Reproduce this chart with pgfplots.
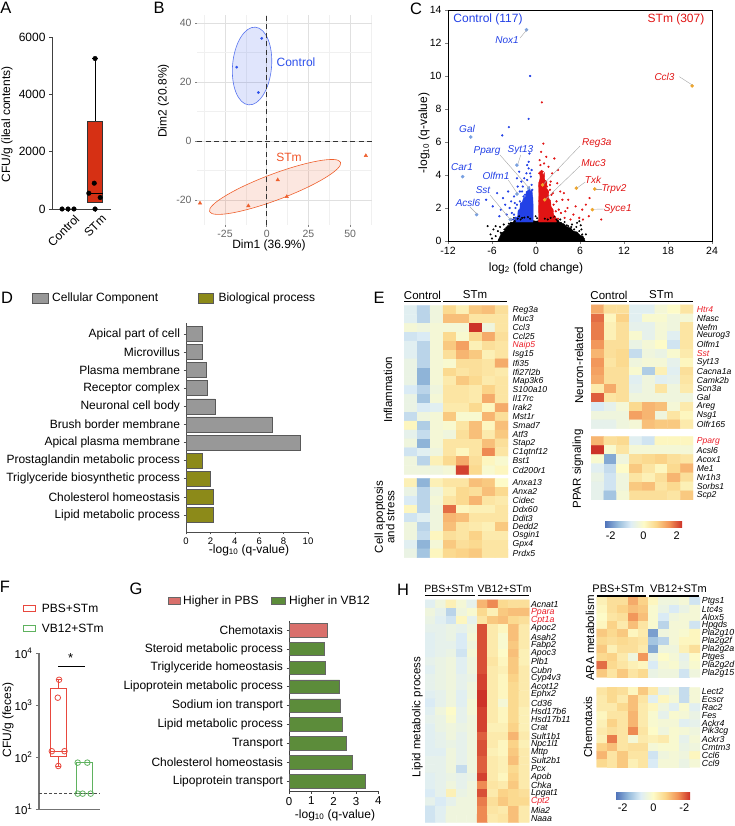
\documentclass[border=0pt]{standalone}
\usepackage{pgfplots}
\pgfplotsset{compat=1.18}
\usepackage{fontspec}
\setmainfont{Liberation Sans}
\newcommand\fs[1]{\fontsize{#1}{#1}\selectfont}
\definecolor{boxred}{RGB}{214,48,20}
\definecolor{ctrlblue}{RGB}{45,80,235}
\definecolor{stmor}{RGB}{238,95,45}
\definecolor{vblue}{RGB}{35,65,230}
\definecolor{vred}{RGB}{225,20,20}
\definecolor{lblue}{RGB}{120,160,225}
\definecolor{lorange}{RGB}{240,165,40}
\definecolor{gbar}{RGB}{152,152,152}
\definecolor{obar}{RGB}{140,138,25}
\definecolor{salm}{RGB}{217,112,108}
\definecolor{gbar2}{RGB}{92,140,58}
\definecolor{pbsred}{RGB}{232,72,62}
\definecolor{vbgreen}{RGB}{95,178,95}
\definecolor{labred}{RGB}{235,30,40}
\definecolor{cm0}{RGB}{80,115,185}
\definecolor{cm1}{RGB}{150,187,220}
\definecolor{cm2}{RGB}{222,238,246}
\definecolor{cm3}{RGB}{253,251,200}
\definecolor{cm4}{RGB}{251,214,138}
\definecolor{cm5}{RGB}{242,148,88}
\definecolor{cm6}{RGB}{205,50,40}
\pgfdeclarehorizontalshading{rdylbush}{100bp}{color(0bp)=(cm0); color(25bp)=(cm0); color(33.33bp)=(cm1); color(41.67bp)=(cm2); color(50bp)=(cm3); color(58.33bp)=(cm4); color(66.67bp)=(cm5); color(75bp)=(cm6); color(100bp)=(cm6)}
\pgfplotsset{
  /pgf/number format/assume math mode=true,
  colormap={rdylbu}{rgb255(0cm)=(80,115,185); rgb255(1cm)=(150,187,220); rgb255(2cm)=(222,238,246); rgb255(3cm)=(253,251,200); rgb255(4cm)=(251,214,138); rgb255(5cm)=(242,148,88); rgb255(6cm)=(205,50,40)},
  noarrows/.style={axis line style={-}, every outer x axis line/.append style={-}, every outer y axis line/.append style={-}},
  hm/.style={scale only axis, anchor=south west, enlargelimits=false, axis line style={draw=none}, tick style={draw=none}, major tick length=0pt, xtick=\empty, yticklabel pos=right, yticklabel style={font=\fs{8.6}\itshape, inner sep=0pt, anchor=west}, colormap name=rdylbu, point meta min=-2, point meta max=2},
  hm8/.style={matrix plot*, mesh/cols=8, point meta=\thisrowno{0}},
  hm10/.style={matrix plot*, mesh/cols=10, point meta=\thisrowno{0}},
  /pgfplots/table/tb8/.style={row sep=\\, header=false, x expr={\coordindex-8*floor((\coordindex+0.5)/8)}, y expr={-floor((\coordindex+0.5)/8)}},
  /pgfplots/table/tb10/.style={row sep=\\, header=false, x expr={\coordindex-10*floor((\coordindex+0.5)/10)}, y expr={-floor((\coordindex+0.5)/10)}},
}
\begin{document}
\begin{tikzpicture}
\path[use as bounding box] (0,0) rectangle (735pt,826pt);

% ---------------- A
\begin{axis}[at={(52pt,617pt)}, anchor=south west, scale only axis, width=59pt, height=172pt,
 xmin=0.407, xmax=2.59, ymin=0, ymax=6000,
 axis x line*=bottom, axis y line*=left, noarrows, axis line style={black!75, line width=0.7pt},
 xtick={1,2}, xticklabels={,},
 ytick={0,2000,4000,6000}, yticklabel style={font=\fs{12}}, scaled y ticks=false, /pgf/number format/1000 sep={},
 tick align=outside, major tick length=3pt, tick style={black!75, line width=0.7pt}]
\addplot[black, line width=0.7pt] coordinates {(2,3050)(2,5250)};
\addplot[black, line width=0.7pt] coordinates {(1.9,5250)(2.1,5250)};
\addplot[fill=boxred, draw=black!80, line width=0.7pt] coordinates {(1.72,230)(2.28,230)(2.28,3050)(1.72,3050)(1.72,230)};
\addplot[black, line width=0.8pt] coordinates {(1.72,560)(2.28,560)};
\addplot[only marks, mark=*, mark size=2.3pt, black] coordinates {(0.78,0)(1,0)(1.22,0)(2,5250)(1.97,900)(1.77,550)(2.19,400)(2,0)};
\end{axis}

% ---------------- B
\begin{axis}[at={(197pt,601pt)}, anchor=south west, scale only axis, width=175pt, height=210pt,
 xmin=-41.8, xmax=63.1, ymin=-28.5, ymax=42.7, axis line style={draw=none},
 xtick={-25,0,25,50}, ytick={-20,0,20,40},
 minor xtick={-37.5,-12.5,12.5,37.5,62.5}, minor ytick={-10,10,30},
 grid=both, major grid style={draw=black!12, line width=0.6pt}, minor grid style={draw=black!6, line width=0.4pt},
 tick pos=left, tick align=outside, major tick length=2pt, minor tick length=0pt, tick style={black!50, line width=0.5pt},
 tick label style={font=\fs{10.5}, text=black!60}]
\draw[draw=ctrlblue!80, line width=0.6pt, fill=ctrlblue, fill opacity=0.15, rotate around={-5:(axis cs:-8.8,25.4)}] (axis cs:-8.8,25.4) ellipse [x radius=19.5pt, y radius=39pt];
\draw[draw=stmor, line width=0.6pt, fill=stmor, fill opacity=0.15, rotate around={20.6:(axis cs:5,-15.6)}] (axis cs:5,-15.6) ellipse [x radius=70pt, y radius=13pt];
\addplot[black!80, dash pattern=on 5pt off 3.5pt, line width=0.6pt] coordinates {(0,-28.5)(0,42.7)};
\addplot[black!80, dash pattern=on 5pt off 3.5pt, line width=0.6pt] coordinates {(-41.8,0)(63.1,0)};
\addplot[only marks, mark=*, mark size=1.2pt, ctrlblue] coordinates {(-18,25)(-3,34.8)(-5,16.4)};
\addplot[only marks, mark=triangle*, mark size=2pt, stmor] coordinates {(59.4,-5)(6.6,-13.2)(12,-18.9)(-11,-22)(-40,-21.1)};
\end{axis}

% ---------------- C
\begin{axis}[at={(448pt,585pt)}, anchor=south west, scale only axis, width=264pt, height=231pt,
 xmin=-12, xmax=24, ymin=0, ymax=14, xtick={-12,-6,...,24}, ytick={0,2,...,14},
 tick pos=left, tick align=outside, major tick length=3pt, axis line style={line width=0.6pt}, tick style={line width=0.6pt},
 tick label style={font=\fs{10.5}}]
\addplot[fill=black, draw=black, line width=0.3pt] coordinates {(-5.2,0)(-4.9,0.3)(-4.7,0.5)(-4.3,0.6)(-4.1,0.85)(-3.7,0.9)(-3.5,1.1)(-3.1,1.15)(-2.9,1.3)(-2.0,1.22)(-1.0,1.3)(0,1.2)(1.0,1.3)(2.0,1.22)(2.9,1.3)(3.3,1.1)(3.8,1.05)(4.2,0.85)(4.7,0.8)(5.1,0.6)(5.6,0.55)(6.0,0.35)(6.4,0.3)(6.7,0)(-5.2,0)};
\addplot[only marks, mark=*, mark size=0.8pt, black] coordinates {(-5.5,0.3)(-5.0,0.1)(-4.8,0.5)(-4.6,0.2)(-4.3,0.7)(-4.1,0.35)(-3.8,0.9)(-3.6,0.5)(-3.4,1.1)(-3.1,0.75)(-2.9,1.2)(-2.7,1.0)(-2.5,1.35)(-2.1,1.3)(-1.9,1.4)(-1.6,1.42)(-1.1,1.45)(-0.8,1.35)(-0.05,1.5)(0.15,1.38)(1.2,1.35)(1.6,1.3)(2.0,1.4)(2.8,1.3)(3.0,1.2)(3.2,0.7)(3.4,1.1)(3.8,0.8)(4.2,0.95)(4.5,0.35)(4.8,0.85)(5.2,0.7)(5.5,0.85)(5.7,0.3)(5.9,0.6)(6.1,0.95)(6.3,0.4)(6.5,0.15)(5.6,1.1)(6.0,0.2)(-6.6,0.9)(-6.2,0.4)(-5.8,0.7)(3.9,1.15)(4.4,0.9)(-4.4,1.0)(-3.0,1.4)(5.9,1.2)(6.2,0.7)(-5.2,0.6)(4.9,1.0)(3.3,1.3)(-3.7,1.05)(-4.9,0.85)(-5.5,0.9)(-6.0,0.15)(6.8,0.4)(-3.3,1.3)(2.5,1.45)(-2.3,1.5)};
\addplot[fill=vblue, draw=vblue, line width=0.3pt] coordinates {(-0.4,1.15)(-0.38,2.0)(-0.42,2.6)(-0.55,3.1)(-0.75,3.0)(-0.9,3.3)(-1.1,3.05)(-1.35,3.0)(-1.4,2.7)(-1.7,2.6)(-1.9,2.35)(-2.15,2.3)(-2.2,1.95)(-2.45,1.85)(-2.5,1.5)(-2.75,1.4)(-2.8,1.15)(-0.4,1.15)};
\addplot[fill=vred, draw=vred, line width=0.3pt] coordinates {(0.36,1.15)(0.33,2.0)(0.38,2.8)(0.35,3.5)(0.55,3.8)(0.5,4.2)(0.8,4.3)(0.95,4.0)(1.15,4.15)(1.2,3.7)(1.5,3.6)(1.45,3.2)(1.75,3.0)(1.7,2.6)(2.0,2.45)(2.05,2.1)(2.35,1.9)(2.4,1.6)(2.7,1.45)(2.8,1.15)(0.36,1.15)};
\addplot[only marks, mark=*, mark size=0.9pt, vblue] coordinates {(-0.8,10.0)(-1.0,7.4)(-3.7,6.9)(-4.6,6.4)(-1.0,4.8)(-1.0,4.4)(-1.3,4.1)(-0.8,4.1)(-6.8,2.5)(-5.9,2.1)(-4.5,2.6)(-4.2,2.2)(-3.4,2.4)(-3.0,2.7)(-2.5,3.3)(-2.0,3.6)(-1.6,3.8)(-2.8,2.0)(-3.3,1.7)(-4.0,1.6)(-5.0,1.5)(-2.2,3.0)(-1.8,3.3)(-1.2,3.7)(-0.7,3.9)(-3.8,3.0)(-2.6,3.8)(-5.3,2.9)(-0.6,3.4)(-1.5,2.8)(-2.9,2.3)(-3.6,2.0)(-4.8,1.9)(-0.9,5.3)(-1.2,4.6)(-0.6,4.3)(-2.3,4.2)(-2.8,1.4)(-2.2,2.4)(-1.7,2.7)(-0.5,3.1)(-1.0,3.1)(-3.1,1.3)(-2.6,2.2)(-1.9,3.0)(-3.0,1.6)};
\addplot[only marks, mark=*, mark size=0.9pt, vred] coordinates {(0.8,8.4)(1.0,5.9)(2.5,5.0)(3.0,4.3)(6.8,2.2)(8.9,1.3)(4.3,2.0)(3.4,1.7)(4.7,1.3)(5.9,1.4)(3.9,1.4)(2.0,3.6)(2.3,2.9)(2.8,2.4)(3.3,3.0)(2.7,1.8)(3.6,2.5)(5.1,1.6)(6.3,1.9)(7.2,1.5)(7.3,2.6)(1.7,4.5)(1.4,5.1)(2.2,4.1)(1.1,4.7)(0.6,4.6)(0.7,5.4)(1.9,3.1)(2.9,3.5)(3.8,2.9)(4.0,1.8)(4.4,2.5)(5.4,2.1)(6.4,1.3)(2.4,2.2)(1.6,2.7)(1.3,3.6)(0.5,4.9)(0.9,4.2)(1.5,3.3)(2.6,1.4)(0.45,4.1)(1.8,2.0)(3.0,1.35)(2.1,2.8)(1.9,3.4)(3.1,1.9)};
\addplot[only marks, mark=*, mark size=1.6pt, lblue] coordinates {(-1.3,12.8)(-8.9,6.3)(-10,3.9)(-8.1,1.6)(-2.6,4.6)(-1.0,3.2)(-2.6,2.85)(-3.5,1.3)};
\addplot[only marks, mark=*, mark size=1.6pt, lorange] coordinates {(21.3,9.4)(5.5,3.2)(8.0,3.15)(7.7,1.9)(0.9,3.4)(1.2,2.5)};
\end{axis}

% ---------------- D
\begin{axis}[at={(186pt,294pt)}, anchor=south west, scale only axis, width=122pt, height=208.7pt,
 xmin=0, xmax=10, ymin=-0.59, ymax=10.94, y dir=reverse,
 axis x line*=bottom, axis y line*=left, noarrows, axis line style={black!70, line width=0.6pt},
 xtick={0,2,...,10}, ytick={0,...,10},
 yticklabels={Apical part of cell, Microvillus, Plasma membrane, Receptor complex, Neuronal cell body, Brush border membrane, Apical plasma membrane, Prostaglandin metabolic process, Triglyceride biosynthetic process, Cholesterol homeostasis, Lipid metabolic process},
 tick align=outside, major tick length=2.5pt, tick style={black!70, line width=0.6pt},
 xticklabel style={font=\fs{9.5}}, yticklabel style={font=\fs{12}}]
\addplot[xbar, bar width=15pt, fill=gbar, draw=black!65, line width=0.6pt] coordinates {(1.34,0)(1.34,1)(1.7,2)(1.78,3)(2.38,4)(7.1,5)(9.4,6)};
\addplot[xbar, bar width=15pt, fill=obar, draw=black!65, line width=0.6pt] coordinates {(1.34,7)(1.97,8)(2.24,9)(2.24,10)};
\end{axis}

% ---------------- E heatmaps
\begin{axis}[hm, at={(404pt,351.6pt)}, width=104pt, height=168.8pt, xmin=-0.5, xmax=7.5, ymin=-18.5, ymax=0.5,
 ytick={0,-1,...,-18}, yticklabels={Reg3a,Muc3,Ccl3,Ccl25,\textcolor{labred}{Naip5},Isg15,Ifi35,Ifi27l2b,Map3k6,S100a10,Il17rc,Irak2,Mst1r,Smad7,Atf3,Stap2,C1qtnf12,Bst1,Cd200r1},
 yticklabel style={xshift=4.5pt}]
\addplot[hm8] table[tb8] {
-0.6\\ -1.0\\ -0.3\\ 0.6\\ 0.2\\ 0.8\\ 0.9\\ 0.5\\
-0.6\\ -1.0\\ -0.3\\ 0.9\\ 0.9\\ 0.4\\ 0.4\\ 0.4\\
-0.2\\ -0.3\\ -0.2\\ -0.2\\ -0.2\\ 2.0\\ -0.3\\ 0.4\\
-0.8\\ -0.7\\ -0.2\\ 0.6\\ -0.1\\ 0.6\\ 1.1\\ 0.5\\
-0.6\\ -1.0\\ -0.2\\ 0.8\\ 1.2\\ 0.2\\ 0.5\\ 0.4\\
-0.6\\ -1.0\\ -0.2\\ 0.5\\ 1.0\\ 0.8\\ 0.2\\ 0.4\\
-0.4\\ -1.0\\ -0.2\\ -0.1\\ 0.5\\ 0.5\\ 0.4\\ 1.1\\
-0.4\\ -1.4\\ -0.2\\ 0.6\\ 0.4\\ 0.5\\ 0.4\\ 0.3\\
-0.4\\ -1.4\\ -0.2\\ 0.3\\ 0.8\\ 0.6\\ 0.3\\ 0.4\\
-0.7\\ -1.0\\ -0.3\\ 0.4\\ 0.4\\ 0.3\\ 0.7\\ 0.4\\
-0.4\\ -1.2\\ -0.2\\ 0.4\\ 0.4\\ 0.3\\ 1.1\\ 0.4\\
-0.4\\ -0.7\\ -0.6\\ 0.3\\ 0.3\\ 0.6\\ 0.1\\ 1.1\\
-0.9\\ -0.3\\ -0.2\\ 0.8\\ -0.1\\ -0.1\\ 1.0\\ 0.5\\
0.1\\ -1.1\\ -0.2\\ -0.1\\ 0.4\\ 0.9\\ 0.1\\ 0.9\\
-0.5\\ -0.9\\ -0.2\\ -0.3\\ 0.5\\ 0.9\\ 0.3\\ 0.8\\
-0.3\\ -1.4\\ -0.2\\ 0.4\\ 0.4\\ 0.4\\ 0.9\\ 0.5\\
-0.8\\ -0.6\\ -0.3\\ 0.4\\ 0.1\\ 0.4\\ 1.4\\ 0.4\\
-0.3\\ -1.0\\ 0.2\\ 0.6\\ 1.1\\ 0.5\\ 0.1\\ -0.1\\
-0.3\\ -0.3\\ -0.3\\ -0.2\\ 1.9\\ 0.6\\ -0.1\\ 0.1\\
};
\end{axis}

\begin{axis}[hm, at={(404pt,268.3pt)}, width=104pt, height=79.4pt, xmin=-0.5, xmax=7.5, ymin=-8.5, ymax=0.5,
 ytick={0,-1,...,-8}, yticklabels={Anxa13,Anxa2,Cidec,Ddx60,Ddit3,Dedd2,Osgin1,Gpx4,Prdx5},
 yticklabel style={xshift=4.5pt}]
\addplot[hm8] table[tb8] {
0.2\\ -1.4\\ 0.2\\ 0.4\\ 0.4\\ 0.9\\ 0.8\\ 0.0\\
-0.4\\ -1.0\\ -0.3\\ 0.2\\ 0.6\\ 0.5\\ 0.9\\ 0.6\\
-0.7\\ -1.0\\ -0.2\\ 0.4\\ 0.6\\ 1.0\\ 0.4\\ 0.3\\
0.1\\ -1.0\\ -0.3\\ 1.6\\ 0.1\\ 0.2\\ 0.2\\ 0.4\\
-0.8\\ -0.6\\ -0.3\\ 1.0\\ 0.9\\ 0.4\\ 0.4\\ 0.4\\
-0.3\\ -1.0\\ -0.3\\ 0.9\\ 0.4\\ 0.3\\ 0.2\\ 0.8\\
-0.3\\ -0.9\\ 0.1\\ 0.5\\ 0.4\\ 0.7\\ 0.3\\ 0.3\\
-0.6\\ -1.4\\ -0.2\\ 0.8\\ 0.5\\ 0.6\\ 0.4\\ 0.4\\
-0.4\\ -1.2\\ 0.1\\ 0.6\\ 0.7\\ 0.8\\ 0.4\\ 0.4\\
};
\end{axis}

\begin{axis}[hm, at={(591pt,397.3pt)}, width=102pt, height=123.8pt, xmin=-0.5, xmax=7.5, ymin=-13.5, ymax=0.5,
 ytick={0,-1,...,-13}, yticklabels={\textcolor{labred}{Htr4},Nfasc,Nefm,Neurog3,Olfm1,\textcolor{labred}{Sst},Syt13,Cacna1a,Camk2b,Scn3a,Gal,Areg,Nsg1,Olfr165},
 yticklabel style={xshift=3.7pt}]
\addplot[hm8] table[tb8] {
1.1\\ 0.5\\ 0.5\\ -0.6\\ -0.6\\ -0.2\\ 0.0\\ 0.4\\
1.6\\ 0.1\\ 0.7\\ -0.6\\ -0.1\\ -0.1\\ -0.3\\ -0.2\\
1.5\\ 0.2\\ 0.5\\ -0.5\\ -0.5\\ -0.2\\ -0.3\\ 0.4\\
1.5\\ 0.2\\ 0.5\\ -0.1\\ -0.5\\ -0.2\\ -0.6\\ 0.4\\
1.3\\ 0.5\\ 0.5\\ -0.4\\ -0.2\\ 0.0\\ -0.8\\ 0.4\\
1.0\\ 0.5\\ 0.6\\ -0.9\\ -0.3\\ -0.4\\ -0.1\\ 0.3\\
1.3\\ 0.4\\ 0.6\\ -0.3\\ -0.2\\ -0.2\\ -0.5\\ 0.1\\
1.2\\ 0.5\\ 0.5\\ -0.1\\ -1.1\\ 0.2\\ -0.6\\ 0.5\\
1.1\\ 0.5\\ 0.5\\ -0.6\\ -0.3\\ -0.6\\ -0.5\\ 0.4\\
0.3\\ 1.1\\ 0.5\\ -0.5\\ -0.3\\ 0.4\\ -0.3\\ 0.3\\
1.7\\ 0.4\\ 0.5\\ -0.3\\ -0.3\\ -0.3\\ -0.3\\ -0.3\\
-0.7\\ -0.5\\ -0.2\\ 0.6\\ 1.0\\ 0.9\\ -0.2\\ 0.3\\
-0.3\\ -0.3\\ -0.3\\ 1.2\\ 1.0\\ -0.3\\ 0.4\\ 0.1\\
-0.5\\ -0.5\\ -0.3\\ -0.2\\ 0.9\\ 0.8\\ 0.8\\ 0.3\\
};
\end{axis}

\begin{axis}[hm, at={(591pt,326pt)}, width=102pt, height=63.5pt, xmin=-0.5, xmax=7.5, ymin=-6.5, ymax=0.5,
 ytick={0,-1,...,-6}, yticklabels={\textcolor{labred}{Pparg},Acsl6,Acox1,Me1,Nr1h3,Sorbs1,Scp2},
 yticklabel style={xshift=3.7pt}]
\addplot[hm8] table[tb8] {
1.0\\ 0.5\\ 0.6\\ -0.6\\ -0.8\\ 0.1\\ 0.1\\ 0.1\\
2.0\\ -0.1\\ 0.4\\ -0.2\\ -0.2\\ -0.2\\ -0.2\\ -0.2\\
-0.1\\ -1.5\\ -0.3\\ 0.5\\ 0.6\\ 0.7\\ 0.5\\ 0.4\\
-0.6\\ -0.9\\ 0.0\\ 0.8\\ 0.4\\ 0.1\\ 0.6\\ 1.0\\
-0.4\\ -0.8\\ -0.3\\ 0.4\\ 0.2\\ 0.5\\ 1.0\\ 0.5\\
-0.5\\ -0.8\\ -0.3\\ 0.8\\ 0.9\\ 0.4\\ 0.6\\ 0.2\\
-0.5\\ -1.2\\ -0.2\\ 0.5\\ 0.5\\ 0.5\\ 0.4\\ 0.8\\
};
\end{axis}

% ---------------- F
\begin{axis}[at={(39pt,16.7pt)}, anchor=south west, scale only axis, width=61pt, height=156pt,
 ymode=log, ymin=10, ymax=10000, xmin=0.255, xmax=2.61,
 axis x line*=bottom, axis y line*=left, noarrows, axis line style={black!55, line width=1.1pt},
 xtick=\empty, ytick={10,100,1000,10000}, yticklabels={10\textsuperscript{1},10\textsuperscript{2},10\textsuperscript{3},10\textsuperscript{4}},
 minor tick length=0pt, tick align=outside, major tick length=3pt, tick style={black!55, line width=1pt}, yticklabel style={font=\fs{11.5}}]
\addplot[pbsred, line width=0.8pt] coordinates {(1,2150)(1,3100)};
\addplot[pbsred, line width=0.8pt] coordinates {(0.9,3100)(1.1,3100)};
\addplot[pbsred, line width=0.8pt] coordinates {(1,103)(1,68)};
\addplot[pbsred, line width=0.8pt] coordinates {(0.9,68)(1.1,68)};
\addplot[pbsred, fill=white, line width=0.8pt] coordinates {(0.68,103)(1.32,103)(1.32,2150)(0.68,2150)(0.68,103)};
\addplot[pbsred, line width=0.8pt] coordinates {(0.68,131)(1.32,131)};
\addplot[vbgreen, fill=white, line width=0.8pt] coordinates {(1.685,20)(2.315,20)(2.315,79)(1.685,79)(1.685,20)};
\addplot[black!70, dash pattern=on 3pt off 2pt, line width=0.5pt] coordinates {(0.255,20)(2.61,20)};
\addplot[only marks, mark=o, mark size=2.8pt, pbsred, line width=0.8pt] coordinates {(1.03,3100)(0.98,1400)(0.75,131)(1.24,131)(1.0,68)};
\addplot[only marks, mark=o, mark size=2.8pt, vbgreen, line width=0.8pt] coordinates {(1.75,79)(2.12,79)(1.75,20)(1.94,20)(2.25,20)};
\addplot[black, line width=0.7pt] coordinates {(1.0,5700)(2.03,5700)};
\end{axis}

% ---------------- G
\begin{axis}[at={(289pt,35pt)}, anchor=south west, scale only axis, width=89.3pt, height=170pt,
 xmin=0, xmax=4, ymin=-0.48, ymax=8.52, y dir=reverse,
 axis x line*=bottom, axis y line*=left, noarrows, axis line style={black!75, line width=0.6pt},
 xtick={0,...,4}, ytick={0,...,8},
 yticklabels={Chemotaxis, Steroid metabolic process, Triglyceride homeostasis, Lipoprotein metabolic process, Sodium ion transport, Lipid metabolic process, Transport, Cholesterol homeostasis, Lipoprotein transport},
 tick align=outside, major tick length=2.5pt, tick style={black!75, line width=0.6pt},
 xticklabel style={font=\fs{11.5}}, yticklabel style={font=\fs{12}}]
\addplot[xbar, bar width=13.5pt, fill=salm, draw=black!60, line width=0.6pt] coordinates {(1.72,0)};
\addplot[xbar, bar width=13.5pt, fill=gbar2, draw=black!60, line width=0.6pt] coordinates {(1.57,1)(1.61,2)(2.27,3)(2.31,4)(2.40,5)(2.58,6)(2.84,7)(3.43,8)};
\end{axis}

% ---------------- H heatmaps
\begin{axis}[hm, at={(425pt,3.6pt)}, width=104.3pt, height=222.5pt, xmin=-0.5, xmax=9.5, ymin=-26.5, ymax=0.5,
 ytick={0,-1,...,-26}, yticklabels={Acnat1,\textcolor{labred}{Ppara},\textcolor{labred}{Cpt1a},Apoc2,Asah2,Fabp2,Apoc3,Plb1,Cubn,Cyp4v3,Acot12,Ephx2,Cd36,Hsd17b6,Hsd17b11,Crat,Sult1b1,Npc1l1,Mttp,Sult2b1,Pcx,Apob,Chka,Lpgat1,\textcolor{labred}{Cpt2},Mia2,Naaa},
 yticklabel style={xshift=1.5pt, font=\fs{8.8}\itshape}]
\addplot[hm10] table[tb10] {
-0.6\\ -0.3\\ 0.2\\ -0.2\\ -0.5\\ 1.0\\ 1.4\\ 0.6\\ 0.5\\ 0.5\\
-0.3\\ -0.5\\ -1.0\\ -0.3\\ -0.1\\ 0.6\\ 0.2\\ 0.8\\ 0.9\\ 0.9\\
-0.4\\ -0.6\\ -0.8\\ 0.1\\ -0.5\\ 0.4\\ 0.8\\ 0.9\\ 0.6\\ 0.5\\
-0.5\\ -0.5\\ -0.4\\ -0.5\\ -0.3\\ 1.8\\ 0.3\\ 0.1\\ 0.9\\ 0.3\\
-0.6\\ -0.5\\ -0.4\\ -0.7\\ -0.2\\ 1.8\\ 0.3\\ -0.1\\ 0.9\\ 0.3\\
-0.6\\ -0.5\\ -0.5\\ -0.7\\ -0.3\\ 1.8\\ 0.3\\ -0.1\\ 0.8\\ 0.3\\
-0.6\\ -0.5\\ -0.4\\ -0.8\\ -0.2\\ 1.8\\ 0.3\\ 0.0\\ 0.9\\ 0.2\\
-0.5\\ -0.4\\ -0.3\\ -0.6\\ -0.3\\ 1.8\\ 0.4\\ 0.1\\ 0.8\\ 0.2\\
-0.6\\ -0.4\\ -0.3\\ -0.6\\ -0.3\\ 1.8\\ 0.3\\ 0.2\\ 0.8\\ 0.3\\
-0.5\\ -0.4\\ -0.3\\ -0.5\\ -0.4\\ 1.9\\ 0.3\\ 0.1\\ 0.7\\ 0.3\\
-0.5\\ -0.4\\ -0.3\\ -0.5\\ -0.3\\ 1.9\\ 0.3\\ 0.1\\ 0.6\\ 0.3\\
-0.6\\ -0.5\\ -0.3\\ -0.6\\ -0.3\\ 2.0\\ 0.3\\ 0.1\\ 0.6\\ 0.3\\
-0.7\\ -0.5\\ -0.3\\ -0.6\\ -0.2\\ 2.0\\ 0.3\\ -0.2\\ 0.6\\ 0.3\\
-0.6\\ -0.3\\ 0.0\\ -0.5\\ -0.2\\ 1.9\\ 0.3\\ 0.1\\ 0.6\\ 0.2\\
-0.5\\ -0.4\\ -0.1\\ -0.5\\ -0.3\\ 1.9\\ 0.3\\ 0.1\\ 0.6\\ 0.2\\
-0.6\\ -0.4\\ -0.3\\ -0.4\\ -0.3\\ 1.9\\ 0.2\\ 0.2\\ 0.7\\ 0.2\\
-0.6\\ -0.5\\ -0.3\\ -0.5\\ -0.3\\ 1.7\\ 0.3\\ 0.3\\ 1.0\\ 0.3\\
-0.6\\ -0.5\\ -0.4\\ -0.5\\ -0.3\\ 1.8\\ 0.3\\ 0.1\\ 0.7\\ 0.2\\
-0.6\\ -0.6\\ -0.3\\ -0.5\\ -0.3\\ 1.8\\ 0.2\\ 0.1\\ 0.8\\ 0.3\\
-0.5\\ -0.5\\ -0.3\\ -0.5\\ -0.3\\ 1.7\\ 0.3\\ 0.2\\ 0.9\\ 0.3\\
-0.5\\ -0.5\\ -0.3\\ -0.9\\ -0.3\\ 1.7\\ 0.3\\ 0.2\\ 0.6\\ 0.3\\
-0.6\\ -0.5\\ -0.4\\ -0.5\\ -0.4\\ 1.9\\ 0.3\\ 0.1\\ 0.7\\ 0.3\\
-0.6\\ -0.5\\ -0.3\\ -0.5\\ -0.3\\ 1.4\\ 0.4\\ 0.3\\ 0.8\\ 0.3\\
-0.7\\ -0.5\\ 0.2\\ -0.4\\ -0.3\\ 1.8\\ 0.3\\ 0.7\\ 0.6\\ 0.5\\
-0.5\\ -0.7\\ -0.5\\ -0.3\\ -0.3\\ 1.5\\ 0.5\\ 0.8\\ 0.6\\ 0.6\\
-0.8\\ -0.6\\ -0.3\\ -0.3\\ -0.3\\ 1.4\\ 0.4\\ 0.3\\ 0.9\\ 0.3\\
-0.8\\ -0.6\\ -0.3\\ -0.3\\ -0.3\\ 1.4\\ 0.3\\ 0.4\\ 0.9\\ 0.3\\
};
\end{axis}

\begin{axis}[hm, at={(596.7pt,148.7pt)}, width=103.3pt, height=80.3pt, xmin=-0.5, xmax=9.5, ymin=-9.5, ymax=0.5,
 ytick={0,-1,...,-9}, yticklabels={Ptgs1,Ltc4s,Alox5,Hpgds,Pla2g10,Pla2g2f,Pla2g2a,Ptges,Pla2g2d,Pla2g15},
 yticklabel style={xshift=1.7pt, font=\fs{8.8}\itshape}]
\addplot[hm10] table[tb10] {
0.2\\ 0.5\\ 0.5\\ 1.1\\ 0.7\\ 0.1\\ -0.3\\ -0.3\\ -0.2\\ -0.8\\
0.1\\ 0.5\\ 0.7\\ 0.9\\ 0.8\\ -0.1\\ -0.4\\ -0.7\\ -0.4\\ -0.2\\
0.0\\ 0.4\\ 0.5\\ 1.3\\ 0.9\\ -0.1\\ -0.7\\ -0.3\\ -0.2\\ -0.2\\
0.1\\ 0.7\\ 0.3\\ 0.9\\ 0.4\\ -0.1\\ -1.0\\ -0.2\\ -0.2\\ -0.8\\
0.8\\ 0.6\\ 0.8\\ 0.1\\ 0.3\\ -1.6\\ -0.3\\ -0.2\\ -0.1\\ 0.1\\
0.6\\ 0.5\\ 0.6\\ 0.5\\ 0.4\\ -1.2\\ -1.0\\ -0.2\\ 0.1\\ 0.1\\
0.8\\ 0.2\\ 0.5\\ 0.5\\ 0.3\\ -1.5\\ -0.3\\ -0.3\\ 0.2\\ 0.5\\
0.6\\ 0.7\\ 0.3\\ -0.3\\ 1.3\\ -0.4\\ 0.0\\ -0.2\\ -0.5\\ 0.0\\
1.6\\ 0.6\\ 0.4\\ 0.2\\ 0.1\\ -0.7\\ -0.2\\ -0.1\\ -0.4\\ -0.1\\
0.8\\ 0.4\\ 0.8\\ 0.4\\ 0.6\\ -0.4\\ -0.3\\ -0.3\\ -0.8\\ -0.3\\
};
\end{axis}

\begin{axis}[hm, at={(596.7pt,58.7pt)}, width=103.3pt, height=79.6pt, xmin=-0.5, xmax=9.5, ymin=-9.5, ymax=0.5,
 ytick={0,-1,...,-9}, yticklabels={Lect2,Ecscr,Rac2,Fes,Ackr4,Pik3cg,Ackr3,Cmtm3,Ccl6,Ccl9},
 yticklabel style={xshift=1.7pt, font=\fs{8.8}\itshape}]
\addplot[hm10] table[tb10] {
0.4\\ 0.6\\ 0.5\\ 0.1\\ 0.8\\ 0.3\\ -0.5\\ -0.3\\ -0.9\\ -0.2\\
0.3\\ 0.6\\ 0.3\\ 0.9\\ 0.4\\ -0.6\\ 0.1\\ -0.2\\ -0.9\\ -0.2\\
0.3\\ 0.3\\ 0.6\\ 0.9\\ 0.3\\ 0.1\\ -0.3\\ -0.6\\ -0.1\\ -0.6\\
0.1\\ 0.4\\ 0.4\\ 1.0\\ 0.3\\ -0.1\\ -0.5\\ -0.1\\ -0.2\\ -0.4\\
0.2\\ 0.7\\ 0.4\\ 1.0\\ 0.3\\ -0.1\\ -0.2\\ -0.2\\ -0.6\\ -0.5\\
0.3\\ 0.5\\ 0.4\\ 1.4\\ 0.4\\ 0.0\\ -0.3\\ -0.1\\ -0.2\\ -0.3\\
0.2\\ 1.5\\ 0.4\\ -0.2\\ 0.3\\ 0.2\\ 0.3\\ -0.1\\ -0.5\\ -0.2\\
0.7\\ 0.9\\ 0.4\\ 0.5\\ 0.5\\ -0.2\\ -0.1\\ -0.1\\ -0.4\\ -0.3\\
1.0\\ 0.4\\ 0.8\\ 0.4\\ 0.4\\ -0.8\\ -0.3\\ -0.2\\ -0.3\\ 0.1\\
0.6\\ 0.4\\ 0.8\\ 0.2\\ 0.4\\ -0.7\\ -0.2\\ -0.2\\ -0.4\\ -0.2\\
};
\end{axis}

% ---------------- annotations
\begin{scope}[x=1pt,y=1pt]
\foreach \l/\x/\y in {A/6/8, B/159/8, C/416/9, D/7/298, E/379/298, F/5/587, G/136/589, H/403/590}
  \node[font=\fs{16.5}] at (\x,826-\y) {\l};
\node[font=\fs{12}, rotate=90] at (7,826-124.5) {CFU/g (ileal contents)};
\node[font=\fs{12}, rotate=45, anchor=north east, inner sep=0.5pt] at (74,826-213) {Control};
\node[font=\fs{12}, rotate=45, anchor=north east, inner sep=0.5pt] at (101,826-213) {STm};
\node[font=\fs{12}, rotate=90] at (163.5,826-101) {Dim2 (20.8\%)};
\node[font=\fs{12}] at (269,826-245) {Dim1 (36.9\%)};
\node[font=\fs{12}, text=ctrlblue] at (296,826-62) {Control};
\node[font=\fs{12}, text=stmor!90!red] at (289,826-157) {STm};
\node[font=\fs{12}, rotate=90] at (424,826-133) {-log\textsubscript{10} (q-value)};
\node[font=\fs{12}] at (536,826-268) {log\textsubscript{2} (fold change)};
\node[font=\fs{12}, text=vblue] at (488,826-19) {Control (117)};
\node[font=\fs{12}, text=vred] at (676,826-19) {STm (307)};
\begin{scope}[gray!70, line width=0.4pt]
\draw (520,826-38)--(527.3,826-29.3);
\draw (679.3,826-76.7)--(692.7,826-85.3);
\draw (580,826-146)--(543.3,826-184.3);
\draw (580,826-166)--(545.7,826-199);
\draw (585.3,826-182)--(576.7,826-188.3);
\draw (602,826-189)--(595.7,826-189);
\draw (605,826-209)--(593.3,826-209.3);
\draw (500,826-155)--(529.3,826-188.3);
\draw (520.7,826-155)--(517.7,826-164.7);
\draw (508.3,826-180)--(517.7,826-194);
\draw (490,826-195)--(510.7,826-220);
\draw (470,826-207)--(477.3,826-214.3);
\end{scope}
\foreach \t/\x/\y in {Nox1/507/40, Gal/467/129, Pparg/487/151, Syt13/520.5/150, Car1/462/167, Olfm1/496/176, Sst/483/190, Acsl6/468/203}
  \node[font=\fs{10}\itshape, text=vblue] at (\x,826-\y) {\t};
\foreach \t/\x/\y in {Ccl3/664.5/77, Reg3a/596.8/143, Muc3/593.5/163.5, Txk/593/179.5, Trpv2/614/189, Syce1/617.7/208.7}
  \node[font=\fs{10}\itshape, text=vred] at (\x,826-\y) {\t};
\filldraw[fill=gbar, draw=black!65, line width=0.6pt] (32.3,826-303.3) rectangle (48.3,826-293.3);
\node[font=\fs{12}, anchor=west, inner sep=0pt] at (52,826-298) {Cellular Component};
\filldraw[fill=obar, draw=black!65, line width=0.6pt] (198.3,826-303.3) rectangle (213.3,826-293.3);
\node[font=\fs{12}, anchor=west, inner sep=0pt] at (218.3,826-298) {Biological process};
\node[font=\fs{12}] at (249,826-550) {-log\textsubscript{10} (q-value)};
\node[font=\fs{11.5}] at (422.5,826-295) {Control};
\node[font=\fs{11.5}] at (475,826-295) {STm};
\draw[line width=1.3pt] (404,826-301.5)--(441,826-301.5);
\draw[line width=1.3pt] (443.3,826-301.5)--(507.3,826-301.5);
\node[font=\fs{11.5}] at (609,826-295) {Control};
\node[font=\fs{11.5}] at (661.3,826-295) {STm};
\draw[line width=1.3pt] (591,826-301.5)--(626.7,826-301.5);
\draw[line width=1.3pt] (629.3,826-301.5)--(693.3,826-301.5);
\node[font=\fs{11.5}, rotate=90] at (388,826-390) {Inflammation};
\node[font=\fs{11.5}, rotate=90, align=center] at (384.5,826-517) {\fontsize{11.5}{11.5}\selectfont Cell apoptosis\\and stress};
\node[font=\fs{11.5}, rotate=90] at (579,826-365) {Neuron-related};
\node[font=\fs{11.5}, rotate=90] at (578,826-469) {PPAR signaling};
\shade[shading=rdylbush] (605,826-527.3) rectangle (682,826-521.7);
\node[font=\fs{11}] at (610.7,826-535.7) {-2};
\node[font=\fs{11}] at (643.3,826-535.7) {0};
\node[font=\fs{11}] at (676.7,826-535.7) {2};
\draw[pbsred, line width=0.8pt] (23.3,826-611.7) rectangle (35,826-605);
\node[font=\fs{12}, anchor=west, inner sep=0pt] at (41.7,826-608.3) {PBS+STm};
\draw[vbgreen, line width=0.8pt] (23.3,826-631.7) rectangle (35,826-625);
\node[font=\fs{12}, anchor=west, inner sep=0pt] at (41.7,826-628.3) {VB12+STm};
\node[font=\fs{12}, rotate=90] at (8,826-720) {CFU/g (feces)};
\node[font=\fs{13}] at (70.7,826-658) {*};
\filldraw[fill=salm, draw=black!60, line width=0.6pt] (168.3,826-604.3) rectangle (180,826-597.7);
\node[font=\fs{12}, anchor=west, inner sep=0pt] at (183,826-601) {Higher in PBS};
\filldraw[fill=gbar2, draw=black!60, line width=0.6pt] (271.7,826-604.3) rectangle (285.7,826-597.7);
\node[font=\fs{12}, anchor=west, inner sep=0pt] at (289,826-601) {Higher in VB12};
\node[font=\fs{12}] at (335,826-815) {-log\textsubscript{10} (q-value)};
\node[font=\fs{10.5}] at (449,826-588.5) {PBS+STm};
\node[font=\fs{10.5}] at (504.5,826-588.5) {VB12+STm};
\draw[line width=1.3pt] (425,826-595.7)--(475,826-595.7);
\draw[line width=1.3pt] (477.7,826-595.7)--(529.3,826-595.7);
\node[font=\fs{11}] at (618.3,826-588.5) {PBS+STm};
\node[font=\fs{11}] at (678.5,826-588.5) {VB12+STm};
\draw[line width=1.3pt] (596.7,826-596)--(646,826-596);
\draw[line width=1.3pt] (649,826-596)--(699,826-596);
\node[font=\fs{11.5}, rotate=90] at (417.5,826-717) {Lipid metabolic process};
\node[font=\fs{11.5}, rotate=90] at (590,826-638) {ARA metabolism};
\node[font=\fs{11.5}, rotate=90] at (588,826-727) {Chemotaxis};
\shade[shading=rdylbush] (616,826-800) rectangle (690,826-792.7);
\node[font=\fs{11}] at (622.7,826-807.3) {-2};
\node[font=\fs{11}] at (653.3,826-807.3) {0};
\node[font=\fs{11}] at (684.3,826-807.3) {-2};
\end{scope}
\end{tikzpicture}
\end{document}
